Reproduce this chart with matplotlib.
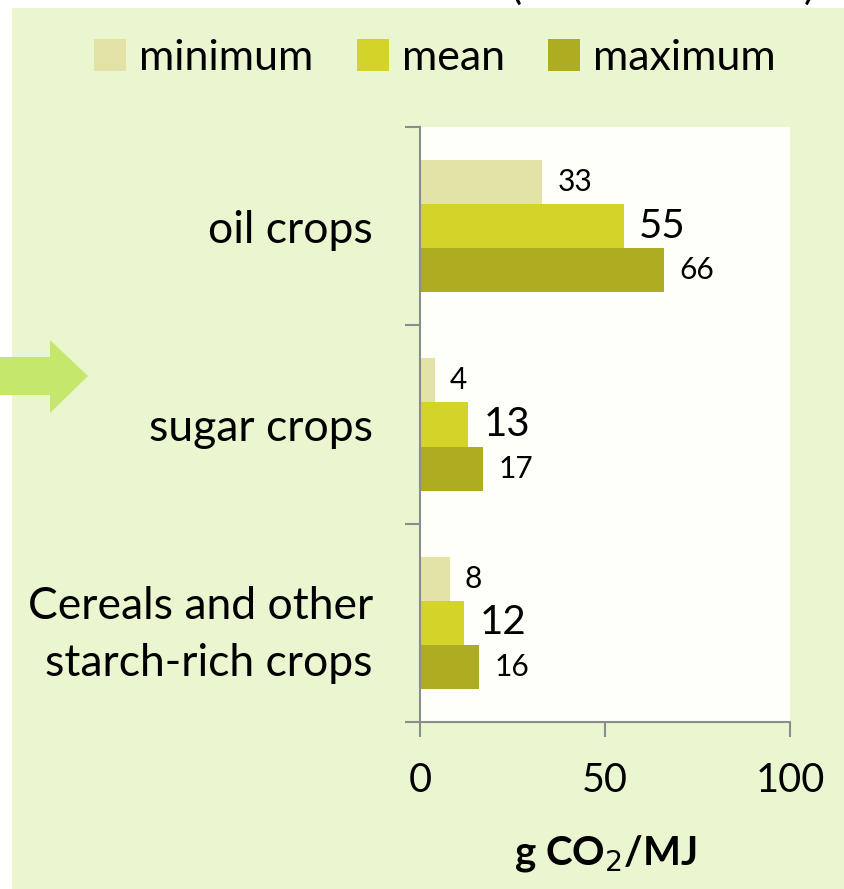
import matplotlib
matplotlib.use("Agg")
import matplotlib.pyplot as plt
import numpy as np
from matplotlib.patches import Rectangle, Polygon, Patch

plt.rcParams['font.family'] = ['Lato', 'DejaVu Sans']

categories = ["oil crops", "sugar crops", "Cereals and other\nstarch-rich crops"]
series_names = ["minimum", "mean", "maximum"]
minimum = [33, 4, 8]
mean = [55, 13, 12]
maximum = [66, 17, 16]
colors = ["#E3E3A7", "#D4D32A", "#AEAD22"]
xticks = [0, 50, 100]

W, H = 844, 889
fig = plt.figure(figsize=(W / 100, H / 100), dpi=100)
fig.patch.set_facecolor("white")

# background axes in pixel coordinates (top-left origin)
bg = fig.add_axes([0, 0, 1, 1], zorder=-10)
bg.set_xlim(0, W)
bg.set_ylim(H, 0)
bg.axis("off")
bg.add_patch(Rectangle((12, 8), W, H, facecolor="#EAF6D0", edgecolor="none"))
arrow_pts = [(0, 357), (50, 357), (50, 340), (88, 376), (50, 413), (50, 395), (0, 395)]
bg.add_patch(Polygon(arrow_pts, closed=True, facecolor="#C5E86C", edgecolor="none"))
# clipped title parentheses
fig.text(510 / W, 1 - 6 / H, "(", fontsize=30, va="bottom", ha="left")
fig.text(815 / W, 1 - 6 / H, ")", fontsize=30, va="bottom", ha="right")

ax = fig.add_axes([420 / W, 1 - 722 / H, 370 / W, 595 / H])
ax.set_facecolor("#FDFFF8")

y = np.arange(len(categories))
h = 0.222
offsets = [-h, 0, h]
vals = [minimum, mean, maximum]
sizes = [21.5, 29, 21.5]
for name, v, c, off, fs in zip(series_names, vals, colors, offsets, sizes):
    bars = ax.barh(y + off, v, height=h, color=c, label=name, zorder=2)
    for b, val in zip(bars, v):
        ax.annotate(str(val), (b.get_width(), b.get_y() + b.get_height() / 2),
                    xytext=(11, 0), textcoords="offset points", va="center",
                    ha="left", fontsize=fs)

ax.set_xlim(0, 100)
ax.set_ylim(len(categories) - 0.5, -0.5)
ax.set_xticks(xticks)
ax.set_xticklabels([str(t) for t in xticks], fontsize=28.5)
ax.set_yticks(np.arange(len(categories) + 1) - 0.5)
ax.set_yticklabels([])
ax.set_yticks(y, minor=True)
ax.set_yticklabels(categories, minor=True, fontsize=32, linespacing=1.5)
ax.tick_params(axis="y", which="minor", length=0, pad=34)
ax.tick_params(axis="y", which="major", length=11, color="#8C8C8C", width=1.5, direction="out")
ax.tick_params(axis="x", length=11, color="#8C8C8C", width=1.5, direction="out", pad=18)
for side in ["top", "right"]:
    ax.spines[side].set_visible(False)
for side in ["left", "bottom"]:
    ax.spines[side].set_color("#8C8C8C")
    ax.spines[side].set_linewidth(1.5)
ax.set_xlabel("g CO$_2$/MJ", fontsize=29, fontweight="bold", labelpad=24)

handles = [Patch(facecolor=c, label=n) for c, n in zip(colors, series_names)]
fig.legend(handles=handles, loc="center", bbox_to_anchor=(435 / W, 1 - 58 / H),
           ncol=3, frameon=False, fontsize=31, handlelength=0.75, handleheight=0.75,
           handletextpad=0.3, columnspacing=1.0, borderpad=0)

fig.savefig("out.png", dpi=100)
